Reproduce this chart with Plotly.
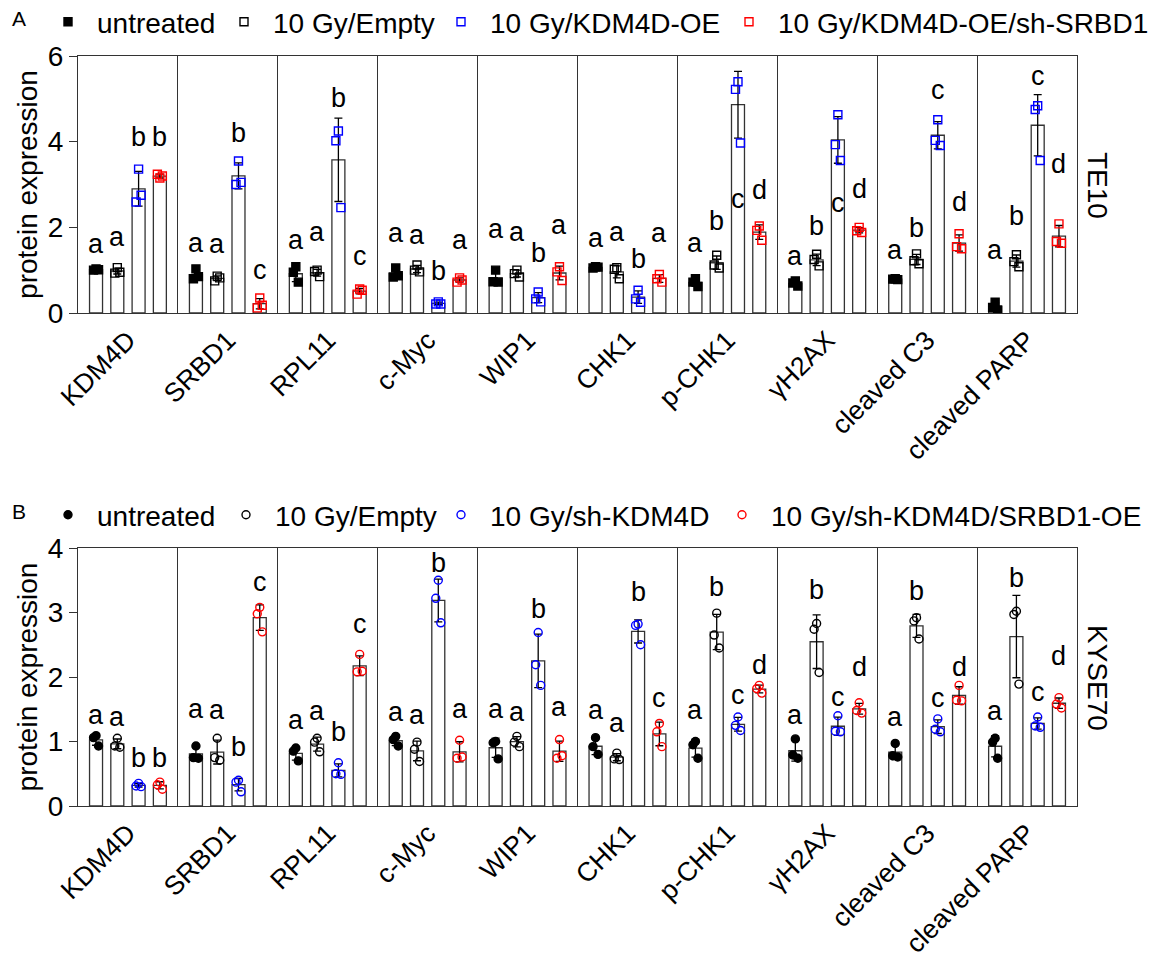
import numpy as np
import plotly.graph_objects as go

# ---------------- data ----------------
proteins = ["KDM4D", "SRBD1", "RPL11", "c-Myc", "WIP1", "CHK1", "p-CHK1",
            "γH2AX", "cleaved C3", "cleaved PARP"]

groups_A = ["untreated", "10 Gy/Empty", "10 Gy/KDM4D-OE", "10 Gy/KDM4D-OE/sh-SRBD1"]
groups_B = ["untreated", "10 Gy/Empty", "10 Gy/sh-KDM4D", "10 Gy/sh-KDM4D/SRBD1-OE"]

# TE10 replicates (3 per protein)
te10_untreated = [[1.03, 1.00, 1.01], [1.03, 0.80, 0.85], [1.08, 0.95, 0.72], [1.05, 0.84, 0.87],
                  [1.00, 0.73, 0.72], [1.08, 1.05, 1.07], [0.80, 0.72, 0.62], [0.75, 0.70, 0.63],
                  [0.80, 0.79, 0.78], [0.25, 0.13, 0.07]]
te10_empty = [[1.06, 0.93, 0.95], [0.86, 0.75, 0.82], [1.00, 0.97, 0.85], [1.12, 1.00, 0.96],
              [1.00, 0.92, 0.84], [1.06, 1.02, 0.80], [1.35, 1.12, 1.05], [1.37, 1.25, 1.10],
              [1.38, 1.22, 1.15], [1.36, 1.20, 1.08]]
te10_oe = [[3.36, 2.59, 2.75], [3.55, 3.00, 3.05], [4.25, 4.02, 2.46], [0.26, 0.21, 0.21],
           [0.49, 0.33, 0.26], [0.53, 0.33, 0.25], [5.40, 5.22, 3.97], [4.63, 3.93, 3.56],
           [4.51, 4.03, 3.91], [4.84, 4.75, 3.56]]
te10_oe_sh = [[3.15, 3.24, 3.20], [0.35, 0.12, 0.18], [0.56, 0.44, 0.53], [0.82, 0.72, 0.77],
              [1.08, 0.96, 0.76], [0.90, 0.80, 0.72], [2.03, 1.93, 1.70], [2.00, 1.92, 1.88],
              [1.85, 1.55, 1.50], [2.08, 1.67, 1.63]]

# KYSE70 replicates
kyse_untreated = [[1.09, 1.06, 0.93], [0.93, 0.75, 0.74], [0.90, 0.85, 0.70], [1.08, 1.03, 0.93],
                  [1.00, 0.98, 0.73], [1.06, 0.92, 0.80], [1.00, 0.95, 0.74], [1.04, 0.79, 0.74],
                  [0.97, 0.78, 0.76], [1.05, 0.99, 0.74]]
kyse_empty = [[1.05, 0.93, 0.91], [1.05, 0.75, 0.71], [1.05, 0.99, 0.84], [0.99, 0.88, 0.69],
              [1.08, 0.99, 0.92], [0.82, 0.73, 0.72], [2.99, 2.65, 2.45], [2.83, 2.74, 2.07],
              [2.92, 2.87, 2.59], [3.02, 2.97, 1.89]]
kyse_sh = [[0.35, 0.31, 0.30], [0.40, 0.37, 0.22], [0.67, 0.50, 0.49], [3.50, 3.22, 2.84],
           [2.69, 2.19, 1.87], [2.82, 2.80, 2.50], [1.38, 1.25, 1.17], [1.40, 1.16, 1.15],
           [1.35, 1.19, 1.15], [1.38, 1.24, 1.22]]
kyse_sh_oe = [[0.37, 0.33, 0.26], [3.08, 2.98, 2.70], [2.35, 2.08, 2.09], [1.02, 0.74, 0.76],
              [1.03, 0.74, 0.78], [1.28, 1.15, 0.92], [1.87, 1.82, 1.75], [1.60, 1.48, 1.44],
              [1.87, 1.64, 1.63], [1.68, 1.58, 1.52]]

# significance letters and their heights (data units)
letters_A = [["a", "a", "b", "b"], ["a", "a", "b", "c"], ["a", "a", "b", "c"], ["a", "a", "b", "a"],
             ["a", "a", "b", "a"], ["a", "a", "b", "a"], ["a", "b", "c", "d"], ["a", "b", "c", "d"],
             ["a", "b", "c", "d"], ["a", "b", "c", "d"]]
letter_y_A = [[1.60, 1.77, 4.10, 4.10], [1.63, 1.61, 4.20, 1.01], [1.71, 1.90, 5.03, 1.32],
              [1.87, 1.83, 0.97, 1.71], [1.97, 1.90, 1.40, 2.06], [1.75, 1.90, 1.25, 1.87],
              [1.63, 2.14, 2.65, 2.88], [1.32, 2.02, 2.57, 2.90], [1.48, 1.98, 5.21, 2.60],
              [1.48, 2.26, 5.54, 3.48]]
letters_B = [["a", "a", "b", "b"], ["a", "a", "b", "c"], ["a", "a", "b", "c"], ["a", "a", "b", "a"],
             ["a", "a", "b", "a"], ["a", "a", "b", "c"], ["a", "b", "c", "d"], ["a", "b", "c", "d"],
             ["a", "b", "c", "d"], ["a", "b", "c", "d"]]
letter_y_B = [[1.41, 1.38, 0.74, 0.74], [1.50, 1.49, 0.92, 3.48], [1.33, 1.47, 1.15, 2.82],
              [1.45, 1.41, 3.77, 1.50], [1.51, 1.46, 3.06, 1.54], [1.49, 1.28, 3.32, 1.67],
              [1.49, 3.40, 1.72, 2.19], [1.41, 3.35, 1.69, 2.16], [1.38, 3.33, 1.67, 2.16],
              [1.47, 3.53, 1.77, 2.32]]

# ---------------- styling / layout ----------------
FONT = "Liberation Sans, Arial, sans-serif"
LINE = "#333333"
colors = ["black", "black", "#0000FF", "#FF0000"]
symbols_A = ["square", "square-open", "square-open", "square-open"]
symbols_B = ["circle", "circle-open", "circle-open", "circle-open"]

# figure is drawn inside the page body, which has an 8px margin
W, H = 1156, 972
OFF = 8


def px_x(v):
    return (v - OFF) / W


def px_y(v):
    return 1 - (v - OFF) / H


# legend entry marker positions (page pixels) for each panel
legend_marker_px_A = [68, 244, 461, 749]
legend_marker_px_B = [68, 246, 461, 742]
LEG_MARK_OFFSET = 29  # distance from legend box left to its symbol

n = len(proteins)
idx = np.arange(n)
spacing = 0.213
offsets = (np.arange(4) - 1.5) * spacing
bar_w = 0.13
jitter = np.array([0.0, -0.025, 0.025])

fig = go.Figure()
legend_layouts = {}
legend_counter = [0]


def legend_id():
    legend_counter[0] += 1
    k = legend_counter[0]
    return "legend" if k == 1 else f"legend{k}"


def add_panel(series, groups, symbols, xa, ya, letters, letter_y, marker_px, legend_y_px):
    for j, (vals, name) in enumerate(zip(series, groups)):
        arr = np.array(vals)
        mean = arr.mean(axis=1)
        sd = arr.std(axis=1, ddof=1)
        xpos = idx + offsets[j]
        fig.add_trace(go.Bar(
            x=xpos, y=mean, width=bar_w, xaxis=xa, yaxis=ya,
            marker=dict(color="white", line=dict(color=LINE, width=1.3)),
            error_y=dict(type="data", array=sd, visible=True, color="black",
                         thickness=1.3, width=4),
            showlegend=False, hoverinfo="skip"))
        lid = legend_id()
        legend_layouts[lid] = dict(
            orientation="h", xanchor="left", yanchor="middle",
            x=px_x(marker_px[j] - LEG_MARK_OFFSET), y=px_y(legend_y_px),
            font=dict(family=FONT, size=28, color="black"),
            bgcolor="rgba(0,0,0,0)", itemwidth=48)
        px = (xpos[:, None] + jitter[None, :]).ravel()
        py = arr.ravel()
        fig.add_trace(go.Scatter(
            x=px, y=py, mode="markers", name=name, xaxis=xa, yaxis=ya,
            legend=lid,
            marker=dict(symbol=symbols[j], size=8, color=colors[j],
                        line=dict(color=colors[j], width=1.4))))
        for i in range(n):
            fig.add_annotation(x=xpos[i], y=letter_y[i][j], text=letters[i][j],
                               xref=xa, yref=ya, showarrow=False,
                               font=dict(family=FONT, size=27, color="black"),
                               yanchor="middle", xanchor="center")


add_panel([te10_untreated, te10_empty, te10_oe, te10_oe_sh], groups_A, symbols_A,
          "x", "y", letters_A, letter_y_A, legend_marker_px_A, 22)
add_panel([kyse_untreated, kyse_empty, kyse_sh, kyse_sh_oe], groups_B, symbols_B,
          "x2", "y2", letters_B, letter_y_B, legend_marker_px_B, 515)

xdom = [px_x(78), px_x(1077)]
ydomA = [px_y(313), px_y(56)]
ydomB = [px_y(806), px_y(548)]

xaxis_common = dict(
    range=[-0.5, n - 0.5], tickmode="array", tickvals=list(idx), ticktext=proteins,
    tickangle=-45, tickfont=dict(family=FONT, size=26.5, color="black"),
    ticks="", showline=True, linecolor=LINE, linewidth=1.3, mirror=True,
    showgrid=False, zeroline=False, domain=xdom, automargin=False,
    minor=dict(tickmode="array", tickvals=list(idx[:-1] + 0.5), showgrid=True,
               gridcolor=LINE, gridwidth=1.3, ticks=""),
)
yaxis_common = dict(
    ticks="outside", ticklen=8, tickwidth=1.3, tickcolor=LINE,
    showline=True, linecolor=LINE, linewidth=1.3, mirror=True,
    showgrid=False, zeroline=False, automargin=False,
    tickfont=dict(family=FONT, size=28, color="black"),
    title=dict(text="protein expression", font=dict(family=FONT, size=28, color="black"), standoff=1),
)

fig.update_layout(
    width=W, height=H, margin=dict(l=0, r=0, t=0, b=0, autoexpand=False),
    paper_bgcolor="white", plot_bgcolor="white",
    barmode="overlay",
    font=dict(family=FONT, color="black"),
    xaxis=dict(**xaxis_common, anchor="y"),
    xaxis2=dict(**xaxis_common, anchor="y2"),
    yaxis=dict(**yaxis_common, range=[0, 6], tickvals=[0, 2, 4, 6], domain=ydomA, anchor="x"),
    yaxis2=dict(**yaxis_common, range=[0, 4], tickvals=[0, 1, 2, 3, 4], domain=ydomB, anchor="x2"),
    **legend_layouts,
)

fig.add_annotation(x=px_x(10), y=px_y(18), xref="paper", yref="paper", text="A",
                   showarrow=False, xanchor="left", yanchor="middle",
                   font=dict(family=FONT, size=21, color="black"))
fig.add_annotation(x=px_x(10), y=px_y(511), xref="paper", yref="paper", text="B",
                   showarrow=False, xanchor="left", yanchor="middle",
                   font=dict(family=FONT, size=21, color="black"))
fig.add_annotation(x=px_x(1098), y=px_y(185), xref="paper", yref="paper", text="TE10",
                   showarrow=False, textangle=90, xanchor="center", yanchor="middle",
                   font=dict(family=FONT, size=28, color="black"))
fig.add_annotation(x=px_x(1098), y=px_y(678), xref="paper", yref="paper", text="KYSE70",
                   showarrow=False, textangle=90, xanchor="center", yanchor="middle",
                   font=dict(family=FONT, size=28, color="black"))

fig.write_html("out.html", config={"displayModeBar": False})
